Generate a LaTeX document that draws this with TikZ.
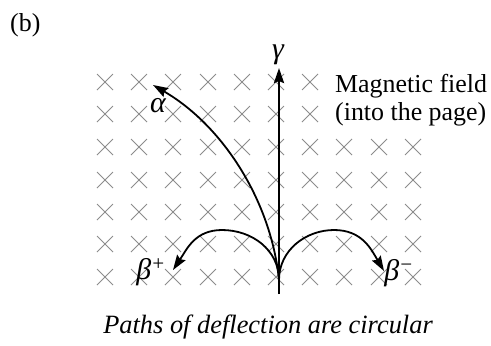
\documentclass[tikz,border=0pt]{standalone}
\usepackage{fontspec}
\setmainfont{Liberation Serif}
\usepackage{tikz}
\usetikzlibrary{arrows.meta}

\tikzset{
  xmark/.style={black!45, line width=0.8bp},
  ray/.style={line width=1.8bp, -{Stealth[length=15bp,width=10bp,inset=2bp]}},
  gray ray/.style={ray, line width=2.4bp},
  lbl/.style={inner sep=0pt, font=\fontsize{26}{28.5}\selectfont},
  greek/.style={inner sep=0pt, font=\fontsize{30}{32}\selectfont\itshape}
}

\begin{document}
\begin{tikzpicture}[x=1bp, y=-1bp]
\useasboundingbox (0,0) rectangle (491,345);
% field crosses, row by row
\draw[xmark] (105,82) +(-8,-8) -- +(8,8) +(-8,8) -- +(8,-8);
\draw[xmark] (139,82) +(-8,-8) -- +(8,8) +(-8,8) -- +(8,-8);
\draw[xmark] (173,82) +(-8,-8) -- +(8,8) +(-8,8) -- +(8,-8);
\draw[xmark] (208,82) +(-8,-8) -- +(8,8) +(-8,8) -- +(8,-8);
\draw[xmark] (242,82) +(-8,-8) -- +(8,8) +(-8,8) -- +(8,-8);
\draw[xmark] (276,82) +(-8,-8) -- +(8,8) +(-8,8) -- +(8,-8);
\draw[xmark] (310,82) +(-8,-8) -- +(8,8) +(-8,8) -- +(8,-8);
\draw[xmark] (105,114) +(-8,-8) -- +(8,8) +(-8,8) -- +(8,-8);
\draw[xmark] (139,114) +(-8,-8) -- +(8,8) +(-8,8) -- +(8,-8);
\draw[xmark] (173,114) +(-8,-8) -- +(8,8) +(-8,8) -- +(8,-8);
\draw[xmark] (208,114) +(-8,-8) -- +(8,8) +(-8,8) -- +(8,-8);
\draw[xmark] (242,114) +(-8,-8) -- +(8,8) +(-8,8) -- +(8,-8);
\draw[xmark] (276,114) +(-8,-8) -- +(8,8) +(-8,8) -- +(8,-8);
\draw[xmark] (310,114) +(-8,-8) -- +(8,8) +(-8,8) -- +(8,-8);
\draw[xmark] (105,147) +(-8,-8) -- +(8,8) +(-8,8) -- +(8,-8);
\draw[xmark] (139,147) +(-8,-8) -- +(8,8) +(-8,8) -- +(8,-8);
\draw[xmark] (173,147) +(-8,-8) -- +(8,8) +(-8,8) -- +(8,-8);
\draw[xmark] (208,147) +(-8,-8) -- +(8,8) +(-8,8) -- +(8,-8);
\draw[xmark] (242,147) +(-8,-8) -- +(8,8) +(-8,8) -- +(8,-8);
\draw[xmark] (276,147) +(-8,-8) -- +(8,8) +(-8,8) -- +(8,-8);
\draw[xmark] (310,147) +(-8,-8) -- +(8,8) +(-8,8) -- +(8,-8);
\draw[xmark] (344,147) +(-8,-8) -- +(8,8) +(-8,8) -- +(8,-8);
\draw[xmark] (379,147) +(-8,-8) -- +(8,8) +(-8,8) -- +(8,-8);
\draw[xmark] (413,147) +(-8,-8) -- +(8,8) +(-8,8) -- +(8,-8);
\draw[xmark] (105,180) +(-8,-8) -- +(8,8) +(-8,8) -- +(8,-8);
\draw[xmark] (139,180) +(-8,-8) -- +(8,8) +(-8,8) -- +(8,-8);
\draw[xmark] (173,180) +(-8,-8) -- +(8,8) +(-8,8) -- +(8,-8);
\draw[xmark] (208,180) +(-8,-8) -- +(8,8) +(-8,8) -- +(8,-8);
\draw[xmark] (242,180) +(-8,-8) -- +(8,8) +(-8,8) -- +(8,-8);
\draw[xmark] (276,180) +(-8,-8) -- +(8,8) +(-8,8) -- +(8,-8);
\draw[xmark] (310,180) +(-8,-8) -- +(8,8) +(-8,8) -- +(8,-8);
\draw[xmark] (344,180) +(-8,-8) -- +(8,8) +(-8,8) -- +(8,-8);
\draw[xmark] (379,180) +(-8,-8) -- +(8,8) +(-8,8) -- +(8,-8);
\draw[xmark] (413,180) +(-8,-8) -- +(8,8) +(-8,8) -- +(8,-8);
\draw[xmark] (105,212) +(-8,-8) -- +(8,8) +(-8,8) -- +(8,-8);
\draw[xmark] (139,212) +(-8,-8) -- +(8,8) +(-8,8) -- +(8,-8);
\draw[xmark] (173,212) +(-8,-8) -- +(8,8) +(-8,8) -- +(8,-8);
\draw[xmark] (208,212) +(-8,-8) -- +(8,8) +(-8,8) -- +(8,-8);
\draw[xmark] (242,212) +(-8,-8) -- +(8,8) +(-8,8) -- +(8,-8);
\draw[xmark] (276,212) +(-8,-8) -- +(8,8) +(-8,8) -- +(8,-8);
\draw[xmark] (310,212) +(-8,-8) -- +(8,8) +(-8,8) -- +(8,-8);
\draw[xmark] (344,212) +(-8,-8) -- +(8,8) +(-8,8) -- +(8,-8);
\draw[xmark] (379,212) +(-8,-8) -- +(8,8) +(-8,8) -- +(8,-8);
\draw[xmark] (413,212) +(-8,-8) -- +(8,8) +(-8,8) -- +(8,-8);
\draw[xmark] (105,244) +(-8,-8) -- +(8,8) +(-8,8) -- +(8,-8);
\draw[xmark] (139,244) +(-8,-8) -- +(8,8) +(-8,8) -- +(8,-8);
\draw[xmark] (173,244) +(-8,-8) -- +(8,8) +(-8,8) -- +(8,-8);
\draw[xmark] (208,244) +(-8,-8) -- +(8,8) +(-8,8) -- +(8,-8);
\draw[xmark] (242,244) +(-8,-8) -- +(8,8) +(-8,8) -- +(8,-8);
\draw[xmark] (276,244) +(-8,-8) -- +(8,8) +(-8,8) -- +(8,-8);
\draw[xmark] (310,244) +(-8,-8) -- +(8,8) +(-8,8) -- +(8,-8);
\draw[xmark] (344,244) +(-8,-8) -- +(8,8) +(-8,8) -- +(8,-8);
\draw[xmark] (379,244) +(-8,-8) -- +(8,8) +(-8,8) -- +(8,-8);
\draw[xmark] (413,244) +(-8,-8) -- +(8,8) +(-8,8) -- +(8,-8);
\draw[xmark] (105,277) +(-8,-8) -- +(8,8) +(-8,8) -- +(8,-8);
\draw[xmark] (139,277) +(-8,-8) -- +(8,8) +(-8,8) -- +(8,-8);
\draw[xmark] (173,277) +(-8,-8) -- +(8,8) +(-8,8) -- +(8,-8);
\draw[xmark] (208,277) +(-8,-8) -- +(8,8) +(-8,8) -- +(8,-8);
\draw[xmark] (242,277) +(-8,-8) -- +(8,8) +(-8,8) -- +(8,-8);
\draw[xmark] (276,277) +(-8,-8) -- +(8,8) +(-8,8) -- +(8,-8);
\draw[xmark] (310,277) +(-8,-8) -- +(8,8) +(-8,8) -- +(8,-8);
\draw[xmark] (344,277) +(-8,-8) -- +(8,8) +(-8,8) -- +(8,-8);
\draw[xmark] (379,277) +(-8,-8) -- +(8,8) +(-8,8) -- +(8,-8);
\draw[xmark] (413,277) +(-8,-8) -- +(8,8) +(-8,8) -- +(8,-8);
% paths of the particles
\coordinate (base) at (279,294);
\coordinate (src) at (279,280);
\coordinate (gtip) at (279,68);
\coordinate (atip) at (153,85);
\coordinate (bptip) at (173,270);
\coordinate (bmtip) at (384,271);
\draw[gray ray] (base) -- (gtip);
\draw[ray] (src) .. controls (271,200) and (222,125) .. (atip);
\draw[ray] (src) .. controls (279,250) and (252,230) .. (222,230) .. controls (195,230) and (187,249) .. (bptip);
\draw[ray] (src) .. controls (279,250) and (306,230) .. (334,230) .. controls (362,230) and (371,249) .. (bmtip);
% labels
\node[greek] (gamma) at (278,55) {γ};
\node[greek] (alpha) at (158,106) {α};
\node[greek] (betap) at (151,272) {β\textsuperscript{+}};
\node[greek] (betam) at (399,273) {β\textsuperscript{−}};
\node[lbl, anchor=base west] (field) at (335,92) {Magnetic field};
\node[lbl, anchor=base west] (page) at (335,120) {(into the page)};
\node[lbl, anchor=base west] (tag) at (10,31) {(b)};
\node[lbl, anchor=base, font=\fontsize{26.5}{28.5}\selectfont\itshape] (caption) at (268,333) {Paths of deflection are circular};
\end{tikzpicture}
\end{document}
